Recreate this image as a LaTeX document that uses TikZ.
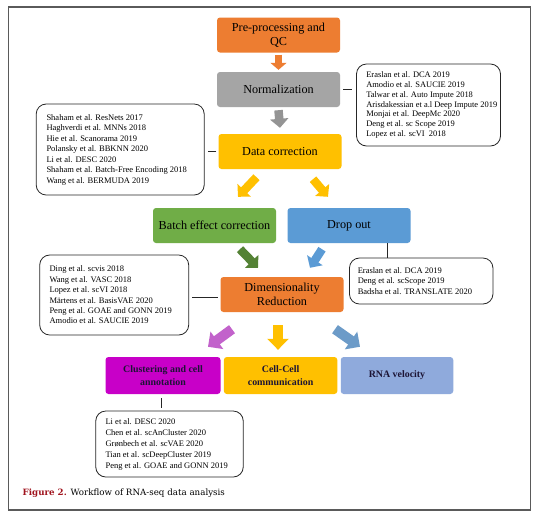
\documentclass[tikz,border=0pt]{standalone}
\usepackage{fontspec}
\setmainfont{Liberation Serif}
\newfontfamily\capfont{DejaVu Serif}
\usetikzlibrary{arrows.meta,calc}
\definecolor{cOrange}{HTML}{ED7D31}
\definecolor{cGray}{HTML}{A5A5A5}
\definecolor{cYellow}{HTML}{FFC000}
\definecolor{cGreen}{HTML}{70AD47}
\definecolor{cBlue}{HTML}{5B9BD5}
\definecolor{cMagenta}{HTML}{C800C8}
\definecolor{cLight}{HTML}{8FAADC}
\definecolor{aGreen}{HTML}{548235}
\definecolor{aBlue}{HTML}{5B9BD5}
\definecolor{aPurple}{HTML}{C262CB}
\definecolor{aSteel}{HTML}{6C9BC8}
\definecolor{navytext}{HTML}{1C1435}
\definecolor{capred}{HTML}{A0141E}
\definecolor{frameC}{HTML}{5A5A5A}
\tikzset{
  stage/.style={rounded corners=3pt, minimum width=123pt, minimum height=35pt, align=center,
    font=\fontsize{12.2}{14}\selectfont, text=black, inner sep=1pt},
  substage/.style={stage, minimum width=114pt, minimum height=37pt,
    font=\fontsize{9.9}{12.3}\selectfont\bfseries, text=navytext},
  citebox/.style={draw=black!85, line width=0.8pt, rounded corners=10pt, inner sep=0pt},
  citetext/.style={anchor=west, align=left, inner sep=0pt, text=black},
  link/.style={draw=black!85, line width=0.8pt},
  arrS/.style={line width=7pt, -{Triangle[width=16pt,length=7pt]}},
  arrM/.style={line width=8.5pt, -{Triangle[width=18pt,length=9pt]}},
  arrL/.style={line width=10pt, -{Triangle[width=21pt,length=11pt]}},
}
\begin{document}
\begin{tikzpicture}[x=1pt,y=-1pt]
\useasboundingbox (0,0) rectangle (543,520);
\fill[white] (0,0) rectangle (543,520);
\draw[frameC, line width=1.6pt] (8.5,7) rectangle (530.5,510);

% main stages
\node[stage, fill=cOrange] (pre) at (278.5,35) {Pre-processing and\\QC};
\node[stage, fill=cGray] (norm) at (278.5,89.5) {Normalization};
\node[stage, fill=cYellow] (corr) at (280,151.5) {Data correction};
\node[stage, fill=cGreen] (batch) at (214.5,225.5) {Batch effect correction};
\node[stage, fill=cBlue] (drop) at (349,225.5) {Drop out};
\node[stage, fill=cOrange] (dim) at (282,294.5) {Dimensionality\\Reduction};
\node[substage, fill=cMagenta, minimum width=115pt] (clus) at (163,375.5) {Clustering and cell\\annotation};
\node[substage, fill=cYellow, minimum width=113.5pt] (cell) at (280.6,375.5) {Cell-Cell\\communication};
\node[substage, fill=cLight, minimum width=112.5pt] (rna) at (397,375.5) {RNA velocity};

% citation boxes
\node[citebox, minimum width=144pt, minimum height=82pt] (cN) at (428.5,105) {};
\node[citetext, font=\fontsize{8.45}{9.8}\selectfont] (cNt) at ($(cN.west)+(10,0)$)
 {Eraslan et al. DCA 2019\\Amodio et al. SAUCIE 2019\\Talwar et al. Auto Impute 2018\\Arisdakessian et a.l Deep Impute 2019\\Monjai et al. DeepMc 2020\\Deng et al. sc Scope 2019\\Lopez et al. scVI\ \ 2018};

\node[citebox, minimum width=168pt, minimum height=91pt] (cC) at (120.2,149.5) {};
\node[citetext, font=\fontsize{8.5}{10.5}\selectfont] (cCt) at ($(cC.west)+(10.5,0)$)
 {Shaham et al. ResNets 2017\\Haghverdi et al. MNNs 2018\\Hie et al. Scanorama 2019\\Polansky et al. BBKNN 2020\\Li et al. DESC 2020\\Shaham et al. Batch-Free Encoding 2018\\Wang et al. BERMUDA 2019};

\node[citebox, minimum width=149pt, minimum height=80pt] (cD) at (114.2,295) {};
\node[citetext, font=\fontsize{8.5}{10.4}\selectfont] (cDt) at ($(cD.west)+(10,0)$)
 {Ding et al. scvis 2018\\Wang et al. VASC 2018\\Lopez et al. scVI 2018\\Märtens et al. BasisVAE 2020\\Peng et al. GOAE and GONN 2019\\Amodio et al. SAUCIE 2019};

\node[citebox, minimum width=143.5pt, minimum height=46pt] (cR) at (421.2,281) {};
\node[citetext, font=\fontsize{8.5}{10.5}\selectfont] (cRt) at ($(cR.west)+(8.5,0)$)
 {Eraslan et al. DCA 2019\\Deng et al. scScope 2019\\Badsha et al. TRANSLATE 2020};

\node[citebox, minimum width=147.5pt, minimum height=66pt] (cL) at (169.5,444) {};
\node[citetext, font=\fontsize{8.5}{11}\selectfont] (cLt) at ($(cL.west)+(10,0)$)
 {Li et al. DESC 2020\\Chen et al. scAnCluster 2020\\Grønbech et al. scVAE 2020\\Tian et al. scDeepCluster 2019\\Peng et al. GOAE and GONN 2019};

% connectors to citation boxes
\draw[link, shorten <=3pt, shorten >=4pt] (norm.east) -- (norm.east -| cN.west);
\draw[link, shorten <=2pt, shorten >=3pt] (corr.west) -- (corr.west -| cC.east);
\coordinate (dimTap) at ($(dim.west)+(0,2.5)$);
\draw[link, shorten <=3pt, shorten >=2pt] (dimTap -| cD.east) -- (dimTap);
\coordinate (dropTap) at ($(drop.south)+(38,0)$);
\draw[link] (dropTap) -- (dropTap |- cR.north);
\coordinate (clusTap) at ($(clus.south)+(-1.4,0)$);
\draw[link, shorten <=4pt, shorten >=3pt] (clusTap) -- (clusTap |- cL.north);

% block arrows
\draw[arrS, cOrange] ($(pre.south)+(0,2)$) -- ($(norm.north)+(0,-2)$);
\draw[arrM, cGray!90!black] ($(norm.south)+(0,3)$) -- ($(corr.north)+(0,-6)$);
\coordinate (yl1) at ($(corr.south)+(-23.5,8)$);
\coordinate (yl2) at ($(batch.north)+(23.5,-11)$);
\draw[arrM, cYellow] (yl1) -- (yl2);
\coordinate (yr1) at ($(corr.south)+(33,10)$);
\coordinate (yr2) at ($(drop.north)+(-21,-11)$);
\draw[arrM, cYellow] (yr1) -- (yr2);
\coordinate (g1) at ($(batch.south)+(25.5,6)$);
\coordinate (g2) at ($(dim.north)+(-24,-9)$);
\draw[arrM, aGreen] (g1) -- (g2);
\coordinate (b1) at ($(drop.south)+(-27,6)$);
\coordinate (b2) at ($(dim.north)+(28,-9)$);
\draw[arrM, aBlue] (b1) -- (b2);
\coordinate (p1) at ($(dim.south)+(-50,17)$);
\coordinate (p2) at ($(clus.north)+(45,-10)$);
\draw[arrL, aPurple] (p1) -- (p2);
\coordinate (c1) at ($(dim.south)+(-4,13)$);
\coordinate (c2) at ($(cell.north)+(-2.6,-7)$);
\draw[arrL, cYellow] (c1) -- (c2);
\coordinate (s1) at ($(dim.south)+(53,17)$);
\coordinate (s2) at ($(rna.north)+(-37,-10)$);
\draw[arrL, aSteel] (s1) -- (s2);

% caption
\node[anchor=base west, inner sep=0pt, font=\capfont\fontsize{8.7}{10}\selectfont] (cap) at (22.5,495.5)
 {\textcolor{capred}{\bfseries Figure 2.} Workflow of RNA-seq data analysis};
\end{tikzpicture}
\end{document}
